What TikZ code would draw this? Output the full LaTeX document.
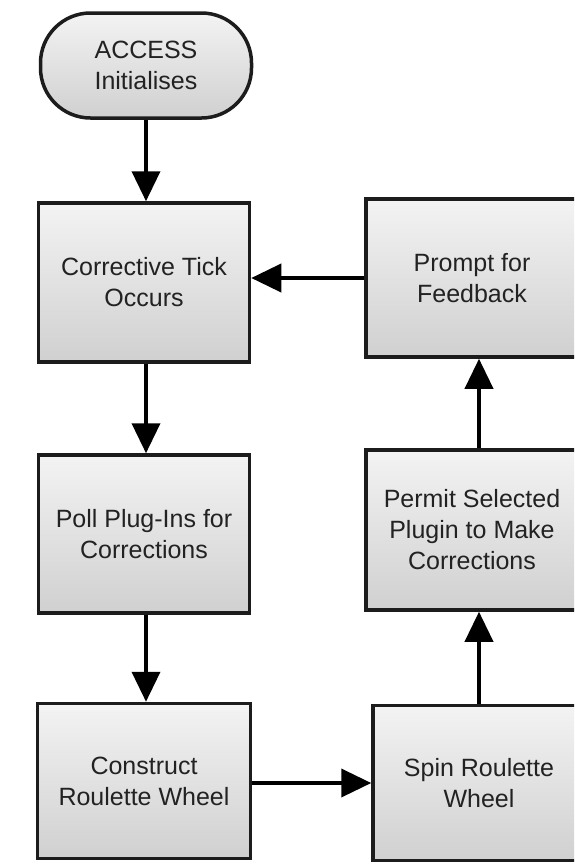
\documentclass[tikz,border=0pt]{standalone}
\usepackage{fontspec}
\setmainfont{Liberation Sans}
\usetikzlibrary{arrows.meta}
\definecolor{boxedge}{HTML}{1C1C1C}
\definecolor{boxtext}{HTML}{222222}
\definecolor{boxtop}{HTML}{F3F3F3}
\definecolor{boxbottom}{HTML}{D0D0D0}
\tikzset{
  stepbox/.style={draw=boxedge, line width=3.5pt, top color=boxtop, bottom color=boxbottom,
    minimum width=211pt, align=center, inner sep=0pt, text=boxtext,
    font=\fontsize{25}{31}\selectfont},
  startbox/.style={stepbox, rounded corners=50pt},
  flow/.style={line width=3.8pt, draw=black, -{Triangle[length=30pt,width=28pt]}}
}
\begin{document}
\begin{tikzpicture}[x=1pt,y=-1pt]
  \path[use as bounding box, clip] (0,0) rectangle (574,865);
  \fill[white] (0,0) rectangle (574,865);

  % left column
  \node[startbox, minimum height=105pt] (start) at (146,65.5) {ACCESS\\Initialises};
  \node[stepbox, minimum height=159pt] (tick) at (144,282.5) {Corrective Tick\\Occurs};
  \node[stepbox, minimum height=158pt] (poll) at (144,534) {Poll Plug-Ins for\\Corrections};
  \node[stepbox, minimum height=155pt, minimum width=213pt] (wheel) at (144,781) {Construct\\Roulette Wheel};

  % right column
  \node[stepbox, minimum height=158pt, minimum width=212pt] (prompt) at (472,278) {Prompt for\\Feedback};
  \node[stepbox, minimum height=160pt, minimum width=212pt] (permit) at (472,530) {Permit Selected\\Plugin to Make\\Corrections};
  \node[stepbox, minimum height=155pt, minimum width=212pt] (spin) at (479,783) {Spin Roulette\\Wheel};

  % connectors
  \draw[flow] (start.south) -- (start.south |- tick.north);
  \draw[flow] (tick.south -| start.south) -- (start.south |- poll.north);
  \draw[flow] (poll.south -| start.south) -- (start.south |- wheel.north);
  \draw[flow] (wheel.east |- spin.west) -- (spin.west);
  \draw[flow] (spin.north) -- (spin.north |- permit.south);
  \draw[flow] (permit.north -| spin.north) -- (spin.north |- prompt.south);
  \draw[flow] (prompt.west) -- (prompt.west -| tick.east);
\end{tikzpicture}
\end{document}
